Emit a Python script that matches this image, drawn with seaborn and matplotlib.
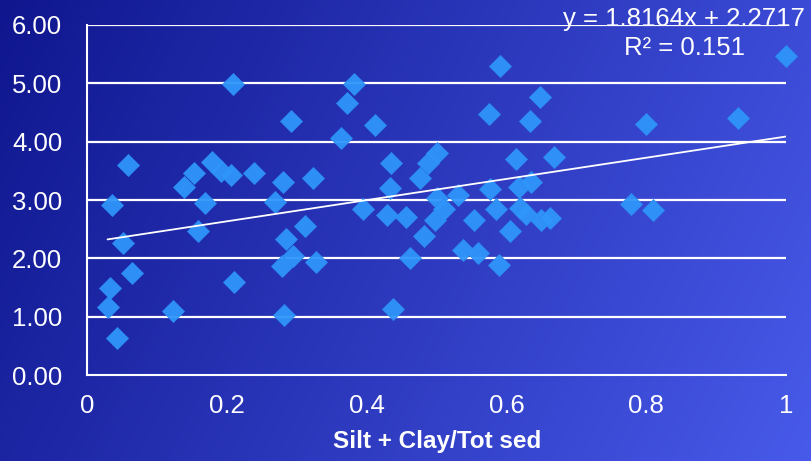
import numpy as np
import pandas as pd
import matplotlib
matplotlib.use("Agg")
import matplotlib.pyplot as plt
import seaborn as sns

# Sediment fraction (silt + clay / total sediment) and measured response
silt_clay_frac = [
    0.029, 0.032, 0.035, 0.043, 0.051, 0.058, 0.064, 0.122, 0.139, 0.152,
    0.158, 0.168, 0.178, 0.192, 0.205, 0.209, 0.210, 0.239, 0.269, 0.280,
    0.278, 0.282, 0.284, 0.292, 0.295, 0.312, 0.323, 0.327, 0.363, 0.371,
    0.381, 0.394, 0.412, 0.429, 0.433, 0.435, 0.437, 0.456, 0.462, 0.476,
    0.482, 0.488, 0.501, 0.498, 0.500, 0.511, 0.531, 0.537, 0.553, 0.559,
    0.575, 0.577, 0.585, 0.590, 0.589, 0.605, 0.614, 0.618, 0.620, 0.628,
    0.634, 0.635, 0.648, 0.649, 0.662, 0.668, 0.778, 0.799, 0.809, 0.931,
    1.000,
]
response = [
    1.17, 1.49, 2.91, 0.64, 2.26, 3.60, 1.75, 1.10, 3.23, 3.47,
    2.46, 2.95, 3.65, 3.49, 3.42, 4.98, 1.59, 3.47, 2.97, 3.31,
    1.87, 1.03, 2.33, 4.36, 2.04, 2.55, 3.37, 1.94, 4.06, 4.67,
    4.99, 2.84, 4.29, 2.74, 3.20, 3.63, 1.14, 2.70, 2.01, 3.37,
    2.38, 3.63, 3.81, 2.65, 3.03, 2.85, 3.09, 2.15, 2.65, 2.09,
    4.47, 3.18, 2.84, 5.29, 1.89, 2.47, 3.70, 3.23, 2.86, 2.76,
    4.36, 3.30, 4.76, 2.65, 2.69, 3.73, 2.93, 4.30, 2.82, 4.40,
    5.47,
]

# Linear trend line coefficients
slope = 1.8164
intercept = 2.2717
r_squared = 0.151

x_ticks = [0, 0.2, 0.4, 0.6, 0.8, 1]
x_tick_labels = ["0", "0.2", "0.4", "0.6", "0.8", "1"]
y_ticks = [0, 1, 2, 3, 4, 5, 6]
y_tick_labels = ["0.00", "1.00", "2.00", "3.00", "4.00", "5.00", "6.00"]

df = pd.DataFrame({"frac": silt_clay_frac, "value": response})

sns.set_theme(style="white")
plt.rcParams["font.family"] = ["Liberation Sans", "DejaVu Sans"]

W, H = 811, 461
fig = plt.figure(figsize=(W / 100, H / 100), dpi=100)

# Blue gradient backdrop across the whole figure
bg = fig.add_axes([0, 0, 1, 1], zorder=0)
gx, gy = np.meshgrid(np.linspace(0, 1, 400), np.linspace(0, 1, 240))
t = np.clip(0.78 * gx + 0.22 * gy, 0, 1)[..., None]
c0 = np.array([15, 22, 142]) / 255.0
c1 = np.array([72, 90, 234]) / 255.0
bg.imshow(c0 * (1 - t) + c1 * t, aspect="auto", extent=[0, 1, 0, 1],
          origin="upper", interpolation="bilinear")
bg.set_axis_off()

left, right = 87.3 / W, 786.0 / W
bottom, top = 1 - 375.0 / H, 1 - 25.0 / H
ax = fig.add_axes([left, bottom, right - left, top - bottom], zorder=1)
ax.set_facecolor("none")

# Horizontal gridlines
for yv in y_ticks[1:]:
    ax.axhline(yv, color="white", lw=1.6, zorder=1)

sns.scatterplot(data=df, x="frac", y="value", ax=ax, marker="D", s=125,
                color="#2f96fb", edgecolor="#2b8cf2", linewidth=0.6,
                alpha=0.95, zorder=3, clip_on=False, legend=False)

# Trend line over the data range
xs = np.array([min(silt_clay_frac), max(silt_clay_frac)])
ax.plot(xs, slope * xs + intercept, color="white", lw=1.3, zorder=4)

ax.set_xlim(0, 1)
ax.set_ylim(0, 6)
ax.set_xticks(x_ticks)
ax.set_xticklabels(x_tick_labels)
ax.set_yticks(y_ticks)
ax.set_yticklabels(y_tick_labels)
ax.tick_params(axis="x", direction="in", length=7, width=1.3, color="white",
               labelcolor="white", labelsize=18.5, pad=14)
ax.tick_params(axis="y", length=0, labelcolor="white", labelsize=18.5, pad=18)
for side in ["top", "right"]:
    ax.spines[side].set_visible(False)
for side in ["left", "bottom"]:
    ax.spines[side].set_color("white")
    ax.spines[side].set_linewidth(1.5)
ax.set_xlabel("Silt + Clay/Tot sed", color="white", fontsize=17.5,
              fontweight="bold", labelpad=8)
ax.set_ylabel("")

fig.text(684 / W, 1 - 19 / H, f"y = {slope:.4f}x + {intercept:.4f}",
         color="white", fontsize=18.5, ha="center", va="center", zorder=5)
fig.text(684 / W, 1 - 48 / H, f"R² = {r_squared:.3f}",
         color="white", fontsize=18.5, ha="center", va="center", zorder=5)

fig.savefig("out.png", dpi=100)
